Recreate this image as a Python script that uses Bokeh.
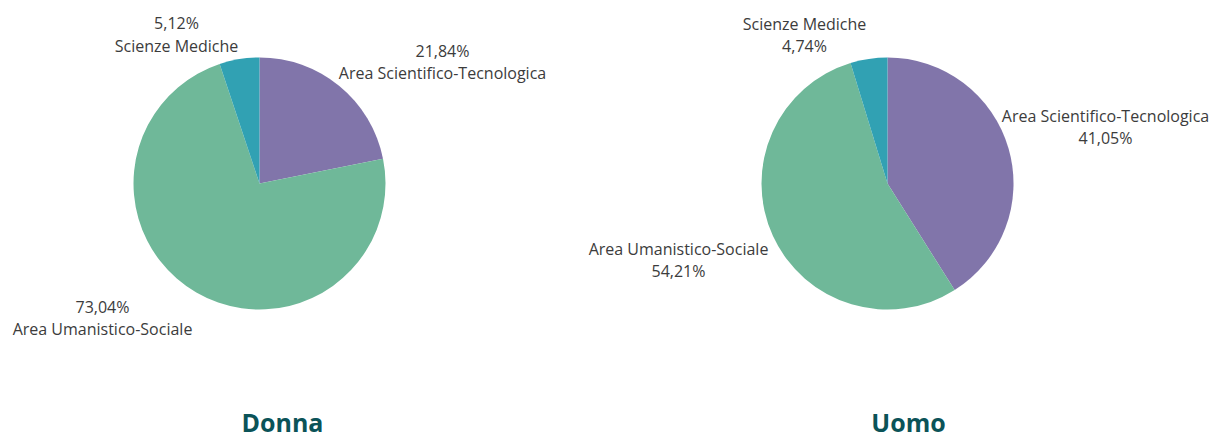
import math
from bokeh.plotting import figure
from bokeh.models import Range1d, ColumnDataSource
from bokeh.core.properties import value
from bokeh.embed import file_html
from bokeh.resources import INLINE

# ---- data ----
categories = ["Area Scientifico-Tecnologica", "Area Umanistico-Sociale", "Scienze Mediche"]
donna_values = [21.84, 73.04, 5.12]
uomo_values = [41.05, 54.21, 4.74]
colors = ["#8175aa", "#6fb899", "#31a1b3"]
titles = ["Donna", "Uomo"]

W, H = 1210, 433
p = figure(width=W, height=H, output_backend="svg", toolbar_location=None,
           x_range=Range1d(0, W), y_range=Range1d(0, H), min_border=0,
           outline_line_color=None, background_fill_color="white")
p.axis.visible = False
p.grid.visible = False

def fmt(v):
    return ("%.2f" % v).replace(".", ",") + "%"

centers = [(259, 250), (887, 250)]
radius = 126

def wedges(vals, cx, cy):
    total = sum(vals)
    starts, ends = [], []
    cum = 0.0
    for v in vals:
        starts.append(math.pi / 2 - cum / total * 2 * math.pi)
        cum += v
        ends.append(math.pi / 2 - cum / total * 2 * math.pi)
    src = ColumnDataSource(dict(x=[cx] * len(vals), y=[cy] * len(vals),
                                start=starts, end=ends, color=colors))
    p.wedge(x="x", y="y", radius=radius, radius_units="screen",
            start_angle="start", end_angle="end", direction="clock",
            fill_color="color", line_color=None, source=src)

wedges(donna_values, *centers[0])
wedges(uomo_values, *centers[1])

label_font = value("Open Sans")
label_color = "#3c3c3c"

def label(x, y, txt):
    p.text(x=[x], y=[y], text=[txt], text_font=label_font, text_font_size="16px",
           text_color=label_color, text_align="center", text_baseline="middle")

# Donna labels (percentage above name)
label(176, 411, fmt(donna_values[2]))
label(176, 388, categories[2])
label(442, 383, fmt(donna_values[0]))
label(442, 361, categories[0])
label(102, 127, fmt(donna_values[1]))
label(102, 105, categories[1])

# Uomo labels (name above percentage)
label(804, 410, categories[2])
label(804, 388, fmt(uomo_values[2]))
label(1105, 318, categories[0])
label(1105, 296, fmt(uomo_values[0]))
label(678, 185, categories[1])
label(678, 163, fmt(uomo_values[1]))

# titles
for (tx, t) in zip([282, 908], titles):
    p.text(x=[tx], y=[12], text=[t], text_font=value("Open Sans"), text_font_size="25px",
           text_font_style="bold", text_color="#0b5358", text_align="center",
           text_baseline="middle")

open("out.html", "w").write(file_html(p, INLINE))
